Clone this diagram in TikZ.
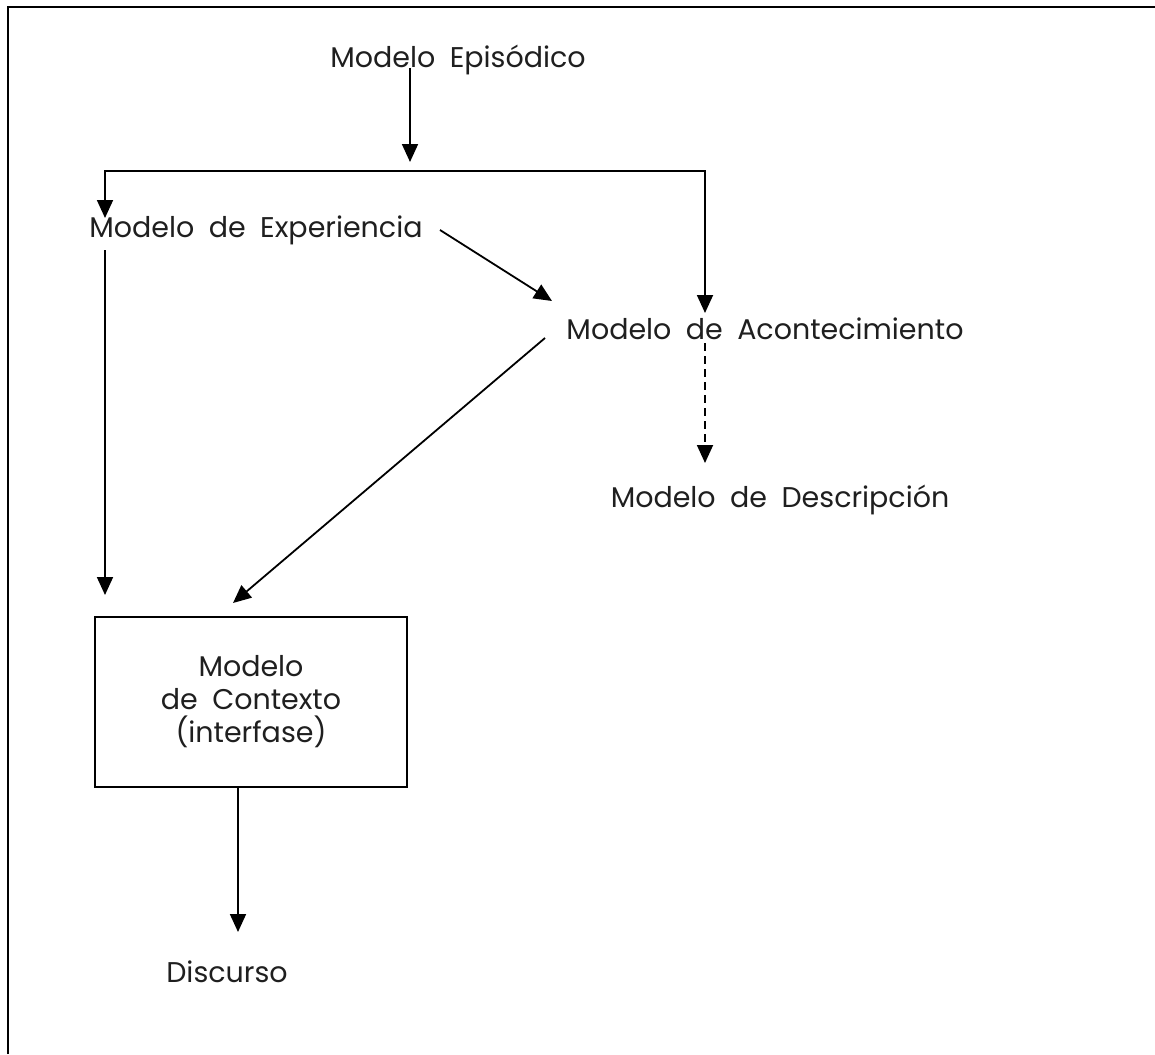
\documentclass[tikz,border=0pt]{standalone}
\usepackage{fontspec}
\setmainfont{Poppins}[WordSpace=1.9]
\usetikzlibrary{arrows.meta}
\begin{document}
\begin{tikzpicture}[x=1pt,y=-1pt,
  lbl/.style={anchor=base,inner sep=0pt,font=\fontsize{28.5}{33}\selectfont,text=black!88},
  conn/.style={line width=1.8pt,-{Triangle[length=18pt,width=16pt]}},
  frame/.style={line width=1.8pt}]
\useasboundingbox (0,0) rectangle (1155,1054);
\draw[frame] (8,1054) -- (8,7) -- (1155,7);
% texts
\node[lbl] (ep) at (458,68) {Modelo Episódico};
\node[lbl] (exp) at (256,237) {Modelo de Experiencia};
\node[lbl] (ac) at (765,339) {Modelo de Acontecimiento};
\node[lbl] (de) at (780,507) {Modelo de Descripción};
\node[lbl] (di) at (227,982) {Discurso};
\node[draw,line width=1.5pt,minimum width=312pt,minimum height=170pt,inner sep=0pt,
      align=center,font=\fontsize{28.5}{33}\selectfont,text=black!88] (ctx) at (251,702)
      {Modelo\\de Contexto\\(interfase)};
% connector end points
\coordinate (ep-out) at (410,68);
\coordinate (split) at (410,162);
\coordinate (lft) at (105,218);
\coordinate (lft-top) at (105,171);
\coordinate (rgt-top) at (705,171);
\coordinate (rgt) at (705,313);
\coordinate (exp-a) at (440,230);
\coordinate (ac-in) at (552,301);
\coordinate (exp-b) at (105,250);
\coordinate (ctx-a) at (105,595);
\coordinate (ac-a) at (545,338);
\coordinate (ctx-b) at (233,603);
\coordinate (ac-b) at (705,343);
\coordinate (de-in) at (705,463);
\coordinate (ctx-out) at (238,788);
\coordinate (di-in) at (238,932);
% connectors
\draw[conn] (ep-out) -- (split);
\draw[conn,{Triangle[length=18pt,width=16pt]}-{Triangle[length=18pt,width=16pt]}] (lft) -- (lft-top) -- (rgt-top) -- (rgt);
\draw[conn] (exp-a) -- (ac-in);
\draw[conn] (exp-b) -- (ctx-a);
\draw[conn] (ac-a) -- (ctx-b);
\draw[conn,dash pattern=on 8pt off 5pt] (ac-b) -- (de-in);
\draw[conn] (ctx-out) -- (di-in);
\end{tikzpicture}
\end{document}
